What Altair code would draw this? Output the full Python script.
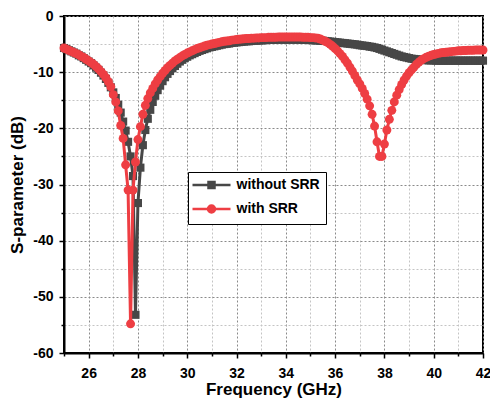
import altair as alt
import pandas as pd

# Frequency grid (GHz), 0.1 GHz steps
freq = [round(25 + 0.1 * i, 1) for i in range(171)]

without_srr = [
    -5.7, -5.9, -6.1, -6.3, -6.5, -6.7, -7.0, -7.2, -7.5, -7.8,
    -8.1, -8.4, -8.8, -9.2, -9.6, -10.1, -10.6, -11.2, -11.9, -12.7,
    -13.6, -14.6, -15.8, -17.2, -18.8, -20.4, -22.4, -25.0, -28.5, -53.2,
    -33.3, -27.0, -23.0, -20.3, -18.3, -16.7, -15.3, -14.2, -13.2, -12.4,
    -11.6, -10.9, -10.3, -9.8, -9.3, -8.9, -8.5, -8.1, -7.8, -7.5,
    -7.25, -7.0, -6.8, -6.6, -6.4, -6.2, -6.05, -5.9, -5.75, -5.6,
    -5.5, -5.4, -5.3, -5.2, -5.1, -5.0, -4.95, -4.9, -4.8, -4.75,
    -4.7, -4.65, -4.6, -4.55, -4.5, -4.5, -4.45, -4.4, -4.4, -4.35,
    -4.35, -4.3, -4.3, -4.25, -4.25, -4.25, -4.2, -4.2, -4.2, -4.2,
    -4.2, -4.2, -4.2, -4.2, -4.2, -4.2, -4.2, -4.25, -4.25, -4.25,
    -4.3, -4.3, -4.35, -4.35, -4.4, -4.4, -4.45, -4.5, -4.55, -4.6,
    -4.65, -4.7, -4.75, -4.8, -4.85, -4.9, -4.95, -5.0, -5.05, -5.1,
    -5.2, -5.25, -5.3, -5.35, -5.45, -5.5, -5.6, -5.7, -5.85, -6.0,
    -6.15, -6.3, -6.45, -6.6, -6.75, -6.9, -7.05, -7.2, -7.3, -7.4,
    -7.5, -7.6, -7.65, -7.7, -7.75, -7.8, -7.85, -7.85, -7.9, -7.9,
    -7.9, -7.95, -7.95, -7.95, -7.95, -7.95, -7.95, -7.95, -7.95, -7.95,
    -7.95, -7.95, -7.95, -7.95, -7.95, -7.95, -7.95, -7.95, -7.95, -7.95,
    -7.95,
]

with_srr = [
    -5.7, -5.9, -6.1, -6.3, -6.5, -6.7, -6.9, -7.2, -7.4, -7.7,
    -8.0, -8.3, -8.6, -9.0, -9.4, -9.9, -10.4, -11.0, -11.7, -12.6,
    -14.0, -15.3, -16.9, -19.5, -21.8, -26.5, -31.0, -54.8, -31.0, -26.0,
    -22.0, -19.7, -17.5, -15.9, -14.7, -13.7, -12.9, -12.1, -11.4, -10.8,
    -10.2, -9.7, -9.2, -8.8, -8.4, -8.0, -7.7, -7.4, -7.1, -6.85,
    -6.6, -6.4, -6.2, -6.0, -5.8, -5.65, -5.5, -5.35, -5.2, -5.1,
    -5.0, -4.9, -4.8, -4.7, -4.6, -4.5, -4.45, -4.4, -4.3, -4.25,
    -4.2, -4.15, -4.1, -4.05, -4.0, -4.0, -3.95, -3.95, -3.9, -3.9,
    -3.85, -3.85, -3.85, -3.8, -3.8, -3.8, -3.8, -3.75, -3.75, -3.75,
    -3.75, -3.75, -3.75, -3.75, -3.75, -3.75, -3.75, -3.8, -3.8, -3.8,
    -3.85, -3.85, -3.9, -3.95, -4.1, -4.3, -4.5, -4.75, -5.05, -5.4,
    -5.8, -6.2, -6.7, -7.2, -7.8, -8.4, -9.1, -9.8, -10.6, -11.4,
    -12.1, -12.9, -13.8, -14.8, -16.0, -17.5, -19.6, -22.4, -25.0, -25.0,
    -22.8, -20.3, -18.4, -16.8, -15.3, -14.1, -13.1, -12.2, -11.4, -10.7,
    -10.1, -9.6, -9.1, -8.6, -8.2, -7.85, -7.6, -7.35, -7.15, -7.0,
    -6.85, -6.75, -6.65, -6.55, -6.5, -6.45, -6.4, -6.35, -6.3, -6.25,
    -6.2, -6.2, -6.15, -6.15, -6.1, -6.1, -6.1, -6.05, -6.05, -6.05,
    -6.05,
]

series_names = ["without SRR", "with SRR"]
series_colors = ["#474747", "#ee3e43"]
series_shapes = ["square", "circle"]
series_sizes = [66, 80]

x_ticks = list(range(25, 43))
y_ticks = list(range(-60, 1, 5))

# legend symbols: a line segment with the marker at its centre
legend_paths = [
    "M-3.8,0H3.8M-0.6,-0.6H0.6V0.6H-0.6ZM-0.25,-0.25H0.25V0.25H-0.25Z",
    "M-3.8,0H3.8M0.7,0A0.7,0.7,0,1,1,-0.7,0A0.7,0.7,0,1,1,0.7,0Z"
    "M0.25,0A0.25,0.25,0,1,1,-0.25,0A0.25,0.25,0,1,1,0.25,0Z",
]

df = pd.DataFrame({
    "freq": freq * 2,
    "value": without_srr + with_srr,
    "series": [series_names[0]] * len(freq) + [series_names[1]] * len(freq),
})

FONT = "Liberation Sans"

x_axis = alt.Axis(
    values=x_ticks,
    labelExpr="datum.value % 2 == 0 ? datum.label : ''",
    labelFlush=False, labelOverlap=False,
    labelFont=FONT, labelFontSize=14, labelFontWeight="bold", labelColor="black",
    labelPadding=8,
    tickColor="black", tickWidth=1.5,
    tickSize={"condition": {"test": "datum.value % 2 == 0", "value": 5}, "value": 3},
    domainColor="black", domainWidth=2,
    grid=True, gridDash=[2, 2], gridWidth=1,
    gridColor={"condition": {"test": "datum.value % 2 == 0", "value": "#8a8a8a"}, "value": "#c4c4c4"},
    title="Frequency (GHz)", titleFont=FONT, titleFontSize=17, titleFontWeight="bold",
    titleColor="black", titleY=41, titleBaseline="alphabetic",
)

y_axis = alt.Axis(
    values=y_ticks,
    labelExpr="datum.value % 10 == 0 ? '' + datum.value : ''",
    labelOverlap=False, labelFlush=False,
    labelFont=FONT, labelFontSize=14, labelFontWeight="bold", labelColor="black",
    labelPadding=6,
    tickColor="black", tickWidth=1.5,
    tickSize={"condition": {"test": "datum.value % 10 == 0", "value": 5}, "value": 3},
    domainColor="black", domainWidth=2,
    grid=True, gridDash=[2, 2], gridWidth=1,
    gridColor={"condition": {"test": "datum.value % 10 == 0", "value": "#8a8a8a"}, "value": "#c4c4c4"},
    title="S-parameter (dB)", titleFont=FONT, titleFontSize=17, titleFontWeight="bold",
    titleColor="black", titleX=-42, titleBaseline="alphabetic",
)

base = alt.Chart(df).encode(
    x=alt.X("freq:Q", scale=alt.Scale(domain=[25, 42], nice=False, zero=False), axis=x_axis),
    y=alt.Y("value:Q", scale=alt.Scale(domain=[-60, 0], nice=False, zero=False), axis=y_axis),
)

layers = []
for name, color, shape, size in zip(series_names, series_colors, series_shapes, series_sizes):
    sub = base.transform_filter(alt.datum.series == name)
    layers.append(sub.mark_line(color=color, strokeWidth=3))
    layers.append(sub.mark_point(shape=shape, filled=True, size=size, color=color,
                                 opacity=1, strokeWidth=0))

legend = alt.Legend(
    orient="none", legendX=124, legendY=156, title=None,
    symbolSize=100, symbolStrokeWidth=2.5, symbolOffset=10.5,
    labelOffset=18, padding=6, rowPadding=7,
    strokeColor="black", fillColor="white",
    labelFont=FONT, labelFontSize=14, labelFontWeight="bold", labelColor="black",
)

legend_layer = alt.Chart(df).transform_filter("false").mark_point(
    filled=False, opacity=1, strokeWidth=2.5
).encode(
    color=alt.Color("series:N", scale=alt.Scale(domain=series_names, range=series_colors), legend=legend),
    shape=alt.Shape("series:N", scale=alt.Scale(domain=series_names, range=legend_paths), legend=legend),
)
layers.append(legend_layer)

chart = alt.layer(*layers).properties(
    width=419, height=337,
    autosize=alt.AutoSizeParams(type="none"),
    padding={"left": 64, "top": 16, "right": 7, "bottom": 47},
).configure(background="white").configure_view(stroke="black", strokeWidth=2)

chart.save("out.html", embed_options={"renderer": "svg", "actions": False})
